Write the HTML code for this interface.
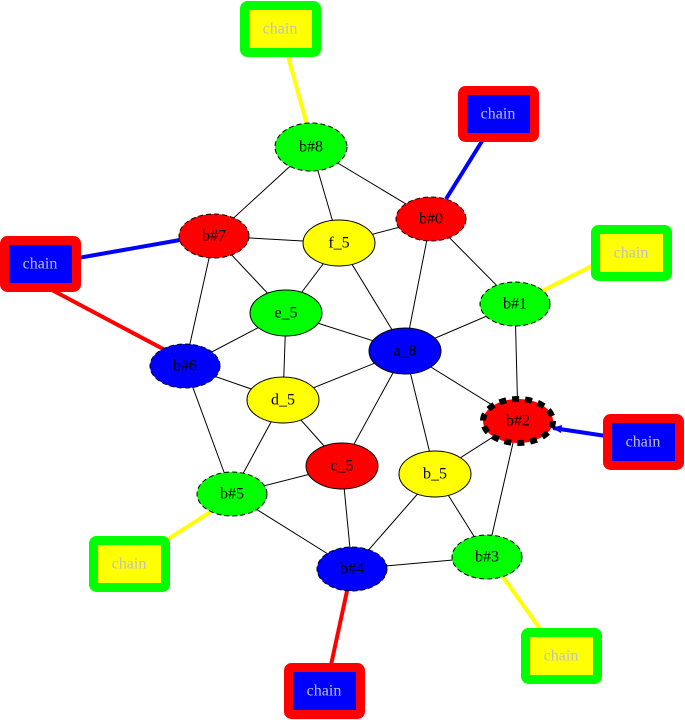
<!DOCTYPE html>
<html><head><meta charset="utf-8"><style>
html,body{margin:0;padding:0;background:#fff;width:685px;height:720px;overflow:hidden}
text{font-family:"Liberation Serif",serif;font-size:16px;text-anchor:middle;dominant-baseline:central}
</style></head><body>
<svg width="685" height="720" xmlns="http://www.w3.org/2000/svg">
<g stroke="#000" stroke-width="1">
<line x1="311" y1="147" x2="214" y2="236"/>
<line x1="311" y1="147" x2="339" y2="243"/>
<line x1="311" y1="147" x2="431" y2="219"/>
<line x1="214" y1="236" x2="339" y2="243"/>
<line x1="214" y1="236" x2="286" y2="313"/>
<line x1="214" y1="236" x2="185" y2="366"/>
<line x1="339" y1="243" x2="431" y2="219"/>
<line x1="339" y1="243" x2="286" y2="313"/>
<line x1="339" y1="243" x2="405" y2="351"/>
<line x1="431" y1="219" x2="405" y2="351"/>
<line x1="431" y1="219" x2="515" y2="304"/>
<line x1="515" y1="304" x2="405" y2="351"/>
<line x1="515" y1="304" x2="518" y2="421"/>
<line x1="286" y1="313" x2="405" y2="351"/>
<line x1="286" y1="313" x2="185" y2="366"/>
<line x1="286" y1="313" x2="283" y2="400"/>
<line x1="185" y1="366" x2="283" y2="400"/>
<line x1="185" y1="366" x2="232" y2="494"/>
<line x1="283" y1="400" x2="405" y2="351"/>
<line x1="283" y1="400" x2="342" y2="466"/>
<line x1="283" y1="400" x2="232" y2="494"/>
<line x1="405" y1="351" x2="342" y2="466"/>
<line x1="405" y1="351" x2="435" y2="474"/>
<line x1="405" y1="351" x2="518" y2="421"/>
<line x1="435" y1="474" x2="518" y2="421"/>
<line x1="518" y1="421" x2="487" y2="557"/>
<line x1="435" y1="474" x2="487" y2="557"/>
<line x1="435" y1="474" x2="352" y2="569"/>
<line x1="342" y1="466" x2="232" y2="494"/>
<line x1="342" y1="466" x2="352" y2="569"/>
<line x1="232" y1="494" x2="352" y2="569"/>
<line x1="352" y1="569" x2="487" y2="557"/>
</g>
<g stroke-width="4">
<line x1="288" y1="56" x2="307" y2="125" stroke="#ff0"/>
<line x1="484" y1="138" x2="446" y2="199" stroke="#00f"/>
<line x1="594" y1="265" x2="542" y2="291" stroke="#ff0"/>
<line x1="78" y1="258" x2="180" y2="240" stroke="#00f"/>
<line x1="52" y1="290" x2="165" y2="350" stroke="#f00"/>
<line x1="606" y1="436" x2="553" y2="428" stroke="#00f"/>
<line x1="165" y1="541" x2="212" y2="511" stroke="#ff0"/>
<line x1="541" y1="630" x2="503" y2="577" stroke="#ff0"/>
<line x1="331" y1="665" x2="347" y2="591" stroke="#f00"/>
</g>
<polygon points="552,428 562,425 561,433" fill="#00f"/>
<g stroke-width="9">
<rect x="244.5" y="5.5" width="72" height="47" rx="3" fill="#ff0" stroke="#0f0"/>
<rect x="462.5" y="90.5" width="72" height="47" rx="3" fill="#00f" stroke="#f00"/>
<rect x="595.5" y="229.5" width="72" height="47" rx="3" fill="#ff0" stroke="#0f0"/>
<rect x="4.5" y="240.5" width="72" height="47" rx="3" fill="#00f" stroke="#f00"/>
<rect x="607.5" y="418.5" width="72" height="47" rx="3" fill="#00f" stroke="#f00"/>
<rect x="93.5" y="540.5" width="72" height="47" rx="3" fill="#ff0" stroke="#0f0"/>
<rect x="525.5" y="632.5" width="72" height="47" rx="3" fill="#ff0" stroke="#0f0"/>
<rect x="288.5" y="667.5" width="72" height="47" rx="3" fill="#00f" stroke="#f00"/>
</g>
<g fill="#c0c0c0">
<text x="280" y="29">chain</text>
<text x="498" y="114">chain</text>
<text x="631" y="253">chain</text>
<text x="40" y="264">chain</text>
<text x="643" y="442">chain</text>
<text x="129" y="564">chain</text>
<text x="561" y="656">chain</text>
<text x="324" y="691">chain</text>
</g>
<g stroke="#000" stroke-width="1" stroke-dasharray="5,3">
<ellipse cx="311" cy="147" rx="36" ry="24" fill="#0f0"/>
<ellipse cx="431" cy="219" rx="35" ry="22" fill="#f00"/>
<ellipse cx="214" cy="236" rx="35" ry="22" fill="#f00"/>
<ellipse cx="515" cy="304" rx="35" ry="22" fill="#0f0"/>
<ellipse cx="185" cy="366" rx="35" ry="22" fill="#00f"/>
<ellipse cx="232" cy="494" rx="35" ry="22" fill="#0f0"/>
<ellipse cx="487" cy="557" rx="35" ry="22" fill="#0f0"/>
<ellipse cx="352" cy="569" rx="35" ry="22" fill="#00f"/>
</g>
<ellipse cx="518" cy="421" rx="35" ry="22" fill="#f00" stroke="#000" stroke-width="6" stroke-dasharray="7,6"/>
<g stroke="#000" stroke-width="1">
<ellipse cx="339" cy="243" rx="36" ry="23" fill="#ff0"/>
<ellipse cx="286" cy="313" rx="36" ry="23" fill="#0f0"/>
<ellipse cx="405" cy="351" rx="36" ry="23" fill="#00f"/>
<ellipse cx="283" cy="400" rx="36" ry="23" fill="#ff0"/>
<ellipse cx="342" cy="466" rx="36" ry="23" fill="#f00"/>
<ellipse cx="435" cy="474" rx="36" ry="23" fill="#ff0"/>
</g>
<g fill="#000">
<text x="311" y="147">b#8</text>
<text x="431" y="219">b#0</text>
<text x="214" y="236">b#7</text>
<text x="339" y="243">f_5</text>
<text x="515" y="304">b#1</text>
<text x="286" y="313">e_5</text>
<text x="405" y="351">a_8</text>
<text x="185" y="366">b#6</text>
<text x="283" y="400">d_5</text>
<text x="518" y="421">b#2</text>
<text x="342" y="466">c_5</text>
<text x="435" y="474">b_5</text>
<text x="232" y="494">b#5</text>
<text x="487" y="557">b#3</text>
<text x="352" y="569">b#4</text>
</g>
</svg>
</body></html>
